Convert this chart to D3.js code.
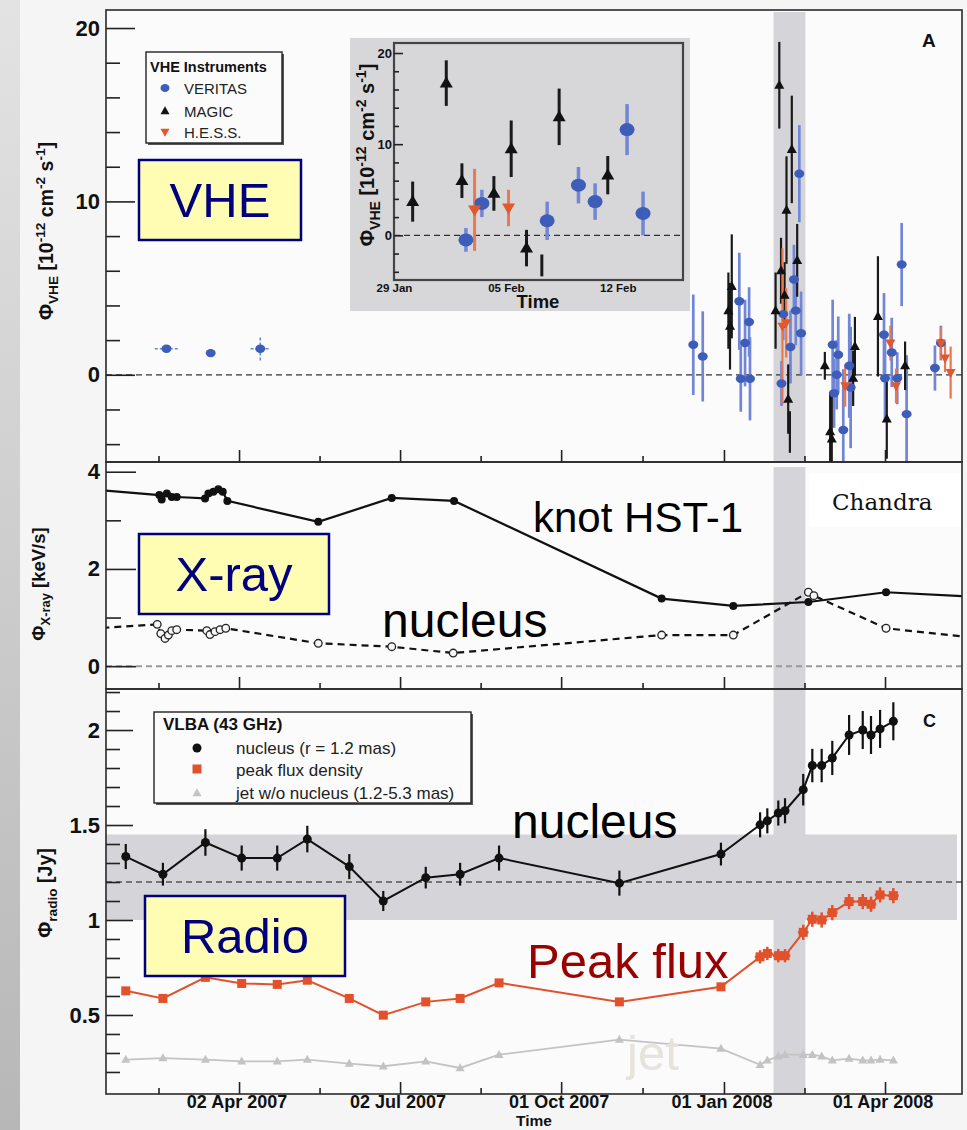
<!DOCTYPE html>
<html>
<head>
<meta charset="utf-8">
<script src="https://cdn.jsdelivr.net/npm/d3@7"></script>
<style>
  html, body { margin: 0; padding: 0; background: #f4f4f4; }
  svg { display: block; }
</style>
</head>
<body>
<svg id="chart" width="967" height="1130"></svg>
<script>
// ---------------- data ----------------
// VHE flux points: [time, flux (1e-12 cm^-2 s^-1), error]
const veritasEarly = [            // [time, flux, error, time error (days)]
  ["2007-02-20", 1.5, 0.15, 6.6],
  ["2007-03-17", 1.25, 0.1, 0],
  ["2007-04-14", 1.5, 0.67, 5.5]
];
const veritas = [
  ["2007-12-14T16:00", 1.73, 2.9],
  ["2007-12-20T00:00", 1.06, 2.6],
  ["2008-01-09T16:00", 4.24, 2.8],
  ["2008-01-10T12:00", -0.23, 1.9],
  ["2008-01-12T22:00", 1.83, 2.5],
  ["2008-01-15T05:00", 3.05, 2.0],
  ["2008-01-15T17:00", -0.23, 2.4],
  ["2008-02-02T12:00", -0.5, 1.3],
  ["2008-02-03T12:00", 3.5, 1.5],
  ["2008-02-07T14:00", 1.6, 2.1],
  ["2008-02-09T13:00", 5.5, 2.0],
  ["2008-02-10T14:00", 3.7, 2.0],
  ["2008-02-12T14:00", 11.6, 2.8],
  ["2008-02-13T14:00", 2.4, 2.4],
  ["2008-03-02T10:00", 1.73, 2.6],
  ["2008-03-03T05:00", -1.06, 2.0],
  ["2008-03-04T17:00", 0.0, 2.0],
  ["2008-03-05T14:00", 1.16, 2.2],
  ["2008-03-08T10:00", -3.18, 3.5],
  ["2008-03-11T19:00", 0.52, 3.0],
  ["2008-03-12T14:00", -0.73, 3.5],
  ["2008-03-31T10:00", 2.31, 2.4],
  ["2008-04-01T00:00", -0.2, 2.5],
  ["2008-04-04T19:00", 1.29, 2.0],
  ["2008-04-07T22:00", -0.2, 1.5],
  ["2008-04-10T10:00", 6.36, 2.4],
  ["2008-04-13T05:00", -2.27, 3.4],
  ["2008-04-29T05:00", 0.39, 1.3],
  ["2008-05-02T14:00", 1.83, 1.0]
];
const magic = [
  ["2008-01-03T12:00", 3.7, 2.2],
  ["2008-01-04T10:00", 2.8, 2.5],
  ["2008-01-05T10:00", 5.1, 3.0],
  ["2008-01-30T04:00", 3.7, 2.2],
  ["2008-02-01T06:30", 16.7, 2.5],
  ["2008-02-02T06:00", 6.0, 1.9],
  ["2008-02-04T06:00", 4.6, 1.9],
  ["2008-02-05T08:00", 9.5, 3.1],
  ["2008-02-06T07:00", -1.4, 2.0],
  ["2008-02-08T08:00", 13.0, 3.1],
  ["2008-02-11T09:00", 6.6, 2.1],
  ["2008-02-27T00:00", 0.52, 0.8],
  ["2008-03-01T00:00", -3.28, 2.3],
  ["2008-03-01T22:00", -3.7, 2.6],
  ["2008-03-14T00:00", -0.2, 1.6],
  ["2008-03-15T00:00", 1.64, 1.7],
  ["2008-03-28T00:00", 3.37, 3.47],
  ["2008-04-02T00:00", -2.54, 2.3],
  ["2008-04-12T08:00", 0.52, 1.4]
];
const magicBarOnly = [["2008-02-07T06:00", -3.3, 1.2]];
const hess = [
  ["2008-02-03T01:00", 2.8, 4.5],
  ["2008-02-05T04:00", 3.0, 2.0],
  ["2008-03-09T12:00", -0.64, 1.2],
  ["2008-04-04T00:00", 1.83, 1.0],
  ["2008-04-07T05:00", -0.64, 1.0],
  ["2008-05-02T14:00", 1.83, 0.9],
  ["2008-05-04T22:00", 0.96, 0.8],
  ["2008-05-08T02:00", 0.13, 1.5]
];

// X-ray (Chandra) count rates: [time, keV/s]
const xrayKnot = [
  ["2007-01-10", 3.63],
  ["2007-02-16", 3.52], ["2007-02-17T07:00", 3.43], ["2007-02-20T05:00", 3.55],
  ["2007-02-23", 3.48], ["2007-02-25T19:00", 3.48],
  ["2007-03-13T19:00", 3.45], ["2007-03-15T17:00", 3.55], ["2007-03-18T12:00", 3.59],
  ["2007-03-21T07:00", 3.64], ["2007-03-23T19:00", 3.59], ["2007-03-26T10:00", 3.40],
  ["2007-05-16T19:00", 2.97], ["2007-06-27T07:00", 3.46], ["2007-08-01T12:00", 3.40],
  ["2007-11-26T19:00", 1.39], ["2008-01-06T07:00", 1.24], ["2008-02-17T17:00", 1.32],
  ["2008-04-01T14:00", 1.52], ["2008-05-20", 1.43]
];
const xrayNucleus = [
  ["2007-01-08", 0.77],
  ["2007-02-14T19:00", 0.86], ["2007-02-16T19:00", 0.67], ["2007-02-19T05:00", 0.57],
  ["2007-02-21T02:00", 0.64], ["2007-02-23", 0.73], ["2007-02-25T19:00", 0.75],
  ["2007-03-14T19:00", 0.73], ["2007-03-16T14:00", 0.65], ["2007-03-19T10:00", 0.71],
  ["2007-03-22T07:00", 0.75], ["2007-03-25T12:00", 0.78],
  ["2007-05-16T19:00", 0.47], ["2007-06-27T07:00", 0.40], ["2007-08-01", 0.27],
  ["2007-11-26T19:00", 0.64], ["2008-01-06T07:00", 0.64], ["2008-02-17T17:00", 1.52],
  ["2008-02-20T19:00", 1.45], ["2008-04-01T14:00", 0.78], ["2008-05-25", 0.57]
];

// VLBA 43 GHz epochs and fluxes (Jy)
const radioDates = [
  "2007-01-28", "2007-02-18", "2007-03-14", "2007-04-03T12:00", "2007-04-23T14:00",
  "2007-05-10T14:00", "2007-06-03T07:00", "2007-06-22T12:00", "2007-07-16T12:00",
  "2007-08-04T22:00", "2007-08-26T22:00", "2007-11-02T22:00", "2007-12-30T07:00",
  "2008-01-21T10:00", "2008-01-25T12:00", "2008-01-31T17:00", "2008-02-04T12:00",
  "2008-02-14T19:00", "2008-02-19T22:00", "2008-02-25T05:00", "2008-03-02T05:00",
  "2008-03-11T17:00", "2008-03-19T10:00", "2008-03-24T02:00", "2008-03-29T05:00",
  "2008-04-05T17:00"
];
const radioNucleus = [1.334, 1.241, 1.408, 1.326, 1.326, 1.426, 1.281, 1.100, 1.223, 1.241,
  1.326, 1.194, 1.347, 1.501, 1.522, 1.563, 1.575, 1.686, 1.813, 1.813, 1.853, 1.974, 2.0,
  1.974, 2.006, 2.046];
const radioNucleusErr = [0.066, 0.06, 0.07, 0.066, 0.066, 0.07, 0.066, 0.053, 0.057, 0.06,
  0.066, 0.066, 0.06, 0.066, 0.066, 0.066, 0.066, 0.083, 0.088, 0.088, 0.09, 0.105, 0.1,
  0.1, 0.1, 0.1];
const radioPeak = [0.627, 0.587, 0.698, 0.666, 0.661, 0.683, 0.587, 0.499, 0.569, 0.587,
  0.669, 0.569, 0.648, 0.806, 0.824, 0.812, 0.812, 0.935, 1.004, 1.0, 1.039, 1.097, 1.097,
  1.083, 1.132, 1.128];
const radioPeakErr = [0.02, 0.02, 0.02, 0.02, 0.02, 0.02, 0.02, 0.02, 0.02, 0.02, 0.02, 0.02,
  0.02, 0.035, 0.035, 0.035, 0.035, 0.04, 0.04, 0.04, 0.04, 0.04, 0.04, 0.04, 0.04, 0.04];
const radioPeakTimeErr = [0, 0, 0, 0, 0, 0, 0, 0, 0, 0, 0, 0, 0,
  3, 3, 3, 3, 3, 3, 3, 3, 3, 3, 3, 3, 3];           // days
const radioJet = [0.265, 0.273, 0.265, 0.256, 0.256, 0.265, 0.244, 0.230, 0.256, 0.221,
  0.291, 0.370, 0.323, 0.238, 0.261, 0.282, 0.291, 0.291, 0.291, 0.282, 0.261, 0.270, 0.261,
  0.261, 0.265, 0.261];
const radioBand = [1.0, 1.45];     // long-term nucleus flux range
const radioMean = 1.2;

const flareWindow = ["2008-01-29", "2008-02-16"];
const timeTicks = ["2007-04-02", "2007-07-02", "2007-10-01", "2008-01-01", "2008-04-01"];
const insetTicks = ["2008-01-29", "2008-02-05", "2008-02-12"];

// ---------------- setup ----------------
const SANS = "'Liberation Sans', Arial, Helvetica, sans-serif";
const T = s => new Date(s.length === 10 ? s + "T00:00:00Z" : s + ":00Z");
const DAY = 864e5;

const svg = d3.select("#chart").attr("font-family", SANS);
const W = 967, H = 1130;
const L = 106, R = 962;
const pA = [10, 462], pB = [462, 689], pC = [689, 1094];

const x = d3.scaleUtc().domain([T("2007-01-16T20:00"), T("2008-05-14T12:00")]).range([L, R]);
const yA = d3.scaleLinear().domain([-5.03, 21.04]).range([pA[1], pA[0]]);
const yB = d3.scaleLinear().domain([-0.47, 4.2]).range([pB[1], pB[0]]);
const yC = d3.scaleLinear().domain([0.084, 2.216]).range([pC[1], pC[0]]);

const inset = { x0: 394, x1: 683, y0: 43, y1: 280 };
const xi = d3.scaleUtc().domain([T("2008-01-29"), T("2008-02-16T02:00")]).range([inset.x0, inset.x1]);
const yi = d3.scaleLinear().domain([-4.9, 21.1]).range([inset.y1, inset.y0]);

const C = {
  band: "#d5d5d9",
  vBlue: "#3d5db8", vBar: "#7186d6",
  mBlack: "#111", mBar: "#1a1a1a",
  hRed: "#e2582e", hBar: "#e9784f",
  peak: "#e1522c", jet: "#c3c3c3",
  navy: "#00007f", boxFill: "#fefdb3"
};

const defs = svg.append("defs");
const grad = defs.append("linearGradient").attr("id", "edge")
  .attr("x1", 0).attr("y1", 0).attr("x2", 0).attr("y2", 1);
grad.append("stop").attr("offset", "0%").attr("stop-color", "#e3e3e3");
grad.append("stop").attr("offset", "100%").attr("stop-color", "#b7b7b7");

function clip(id, x0, y0, w, h) {
  defs.append("clipPath").attr("id", id).append("rect")
    .attr("x", x0).attr("y", y0).attr("width", w).attr("height", h);
  return `url(#${id})`;
}
const clipA = clip("clipA", L, pA[0], R - L, pA[1] - pA[0]);
const clipB = clip("clipB", L, pB[0], R - L, pB[1] - pB[0]);
const clipC = clip("clipC", L, pC[0], R - L, pC[1] - pC[0]);
const clipI = clip("clipI", inset.x0, inset.y0, inset.x1 - inset.x0, inset.y1 - inset.y0);

// page background
svg.append("rect").attr("width", W).attr("height", H).attr("fill", "#f5f5f5");
svg.append("rect").attr("width", 20).attr("height", H).attr("fill", "url(#edge)");
svg.append("rect").attr("x", L).attr("y", pA[0]).attr("width", R - L)
  .attr("height", pC[1] - pA[0]).attr("fill", "#fbfbfb");

// ---------------- helpers ----------------
const triPath = (w, h, down) => down
  ? `M${-w / 2},${-h * 0.4}L${w / 2},${-h * 0.4}L0,${h * 0.6}Z`
  : `M0,${-h * 0.6}L${w / 2},${h * 0.4}L${-w / 2},${h * 0.4}Z`;

function vBars(g, data, xs, ys, color, width, val, err) {
  g.append("g").selectAll("line").data(data).join("line")
    .attr("x1", d => xs(T(d[0]))).attr("x2", d => xs(T(d[0])))
    .attr("y1", d => ys(val(d) - err(d))).attr("y2", d => ys(val(d) + err(d)))
    .attr("stroke", color).attr("stroke-width", width);
}

function richText(parent, x0, y0, fs, parts, rotate, anchor) {
  const t = parent.append("text")
    .attr("transform", `translate(${x0},${y0})` + (rotate ? " rotate(-90)" : ""))
    .attr("text-anchor", anchor || "middle")
    .attr("font-size", fs).attr("font-weight", "bold").attr("fill", "#111");
  let shift = 0;
  parts.forEach(p => {
    const target = p.sub ? 0.28 * fs : p.sup ? -0.42 * fs : 0;
    t.append("tspan").attr("dy", target - shift)
      .attr("font-size", (p.sub || p.sup) ? 0.7 * fs : fs).text(p.t);
    shift = target;
  });
  return t;
}

function yAxis(g, xpos, scale, majors, minors, majLen, minLen, fs, pad) {
  const a = g.append("g").attr("transform", `translate(${xpos},0)`)
    .call(d3.axisLeft(scale).tickValues(majors).tickSizeInner(-majLen).tickSizeOuter(0)
      .tickPadding(pad).tickFormat(d3.format("~g")));
  a.attr("font-family", SANS).attr("font-size", fs).attr("font-weight", "bold");
  a.select(".domain").remove();
  a.selectAll("line").attr("stroke", "#222").attr("stroke-width", 1.6);
  a.selectAll("text").attr("fill", "#111");
  const b = g.append("g").attr("transform", `translate(${xpos},0)`)
    .call(d3.axisLeft(scale).tickValues(minors).tickSizeInner(-minLen).tickSizeOuter(0).tickFormat(""));
  b.select(".domain").remove();
  b.selectAll("line").attr("stroke", "#222").attr("stroke-width", 1.6);
}

const majorDates = timeTicks.map(T);
const minorDates = [new Date(+majorDates[0] - (majorDates[1] - majorDates[0]) / 2)]
  .concat(d3.pairs(majorDates).map(([a, b]) => new Date((+a + +b) / 2)));

function xAxis(g, ybot, labels) {
  const a = g.append("g").attr("transform", `translate(0,${ybot})`)
    .call(d3.axisBottom(x).tickValues(majorDates).tickSizeInner(-12).tickSizeOuter(0)
      .tickPadding(1).tickFormat(labels ? d3.utcFormat("%d %b %Y") : ""));
  a.attr("font-family", SANS).attr("font-size", 18).attr("font-weight", "bold");
  a.select(".domain").remove();
  a.selectAll("line").attr("stroke", "#222").attr("stroke-width", 1.6);
  a.selectAll("text").attr("fill", "#111").attr("dx", -2.5);
  const b = g.append("g").attr("transform", `translate(0,${ybot})`)
    .call(d3.axisBottom(x).tickValues(minorDates).tickSizeInner(-6).tickSizeOuter(0).tickFormat(""));
  b.select(".domain").remove();
  b.selectAll("line").attr("stroke", "#222").attr("stroke-width", 1.6);
}

function flareBand(g, y0, y1) {
  g.append("rect").attr("x", x(T(flareWindow[0]))).attr("y", y0)
    .attr("width", x(T(flareWindow[1])) - x(T(flareWindow[0]))).attr("height", y1 - y0)
    .attr("fill", C.band);
}

function frame(g, y0, y1) {
  g.append("rect").attr("x", L).attr("y", y0).attr("width", R - L).attr("height", y1 - y0)
    .attr("fill", "none").attr("stroke", "#2a2a2a").attr("stroke-width", 1.6);
}

function labelBox(g, bx, by, bw, bh, text) {
  g.append("rect").attr("x", bx).attr("y", by).attr("width", bw).attr("height", bh)
    .attr("fill", C.boxFill).attr("stroke", C.navy).attr("stroke-width", 2.5);
  g.append("text").attr("x", bx + bw / 2).attr("y", by + bh / 2 + 17)
    .attr("text-anchor", "middle").attr("font-size", 49).attr("fill", C.navy).text(text);
}

const yLabelVHE = [{ t: "Φ" }, { t: "VHE", sub: 1 }, { t: " [10" }, { t: "-12", sup: 1 },
  { t: " cm" }, { t: "-2", sup: 1 }, { t: " s" }, { t: "-1", sup: 1 }, { t: "]" }];

// VHE light curve, drawn through any pair of scales
function drawVHE(g, xs, ys, big) {
  const rx = big ? 7.5 : 5, ry = big ? 6.5 : 4.2;
  const tw = big ? 13 : 10, th = big ? 11 : 9;
  const bw = big ? 3 : 2.2;
  const val = d => d[1], err = d => d[2];

  // early VERITAS points with time and flux errors
  const e = g.append("g");
  e.selectAll("line.v").data(veritasEarly).join("line")
    .attr("x1", d => xs(T(d[0]))).attr("x2", d => xs(T(d[0])))
    .attr("y1", d => ys(d[1] - d[2])).attr("y2", d => ys(d[1] + d[2]))
    .attr("stroke", C.vBar).attr("stroke-width", 1.6).attr("stroke-dasharray", "3,2");
  e.selectAll("line.h").data(veritasEarly).join("line")
    .attr("x1", d => xs(new Date(+T(d[0]) - d[3] * DAY)))
    .attr("x2", d => xs(new Date(+T(d[0]) + d[3] * DAY)))
    .attr("y1", d => ys(d[1])).attr("y2", d => ys(d[1]))
    .attr("stroke", C.vBar).attr("stroke-width", 1.6).attr("stroke-dasharray", "3,2");

  vBars(g, veritas, xs, ys, C.vBar, bw + 0.5, val, err);
  vBars(g, magic.concat(magicBarOnly), xs, ys, C.mBar, bw, val, err);
  vBars(g, hess, xs, ys, C.hBar, bw, val, err);

  g.append("g").selectAll("ellipse").data(veritasEarly.concat(veritas)).join("ellipse")
    .attr("cx", d => xs(T(d[0]))).attr("cy", d => ys(d[1]))
    .attr("rx", rx).attr("ry", ry).attr("fill", C.vBlue);
  g.append("g").selectAll("path").data(magic).join("path")
    .attr("transform", d => `translate(${xs(T(d[0]))},${ys(d[1])})`)
    .attr("d", triPath(tw, th, false)).attr("fill", C.mBlack);
  g.append("g").selectAll("path").data(hess).join("path")
    .attr("transform", d => `translate(${xs(T(d[0]))},${ys(d[1])})`)
    .attr("d", triPath(tw, th, true)).attr("fill", C.hRed);
}

// ---------------- panel A: VHE ----------------
const gA = svg.append("g");
flareBand(gA, pA[0] + 2, pA[1]);
gA.append("line").attr("x1", L).attr("x2", R).attr("y1", yA(0)).attr("y2", yA(0))
  .attr("stroke", "#333").attr("stroke-width", 1.3).attr("stroke-dasharray", "6,4");
drawVHE(gA.append("g").attr("clip-path", clipA), x, yA, false);
frame(gA, pA[0], pA[1]);
yAxis(gA, L, yA, [0, 10, 20], d3.range(-4, 21, 2).filter(v => v % 10 !== 0), 29, 14, 22, 6);
xAxis(gA, pA[1], false);
richText(gA, 53, 231, 19.5, yLabelVHE, true);
gA.append("text").attr("x", 922).attr("y", 47).attr("font-size", 19).attr("font-weight", "bold")
  .attr("fill", "#111").text("A");

// legend
const lgA = gA.append("g");
lgA.append("rect").attr("x", 148).attr("y", 54).attr("width", 136).attr("height", 91).attr("fill", "#555");
lgA.append("rect").attr("x", 146).attr("y", 52).attr("width", 136).attr("height", 91)
  .attr("fill", "#fbfbfb").attr("stroke", "#222").attr("stroke-width", 1.4);
lgA.append("text").attr("x", 150).attr("y", 72).attr("font-size", 14.5).attr("font-weight", "bold")
  .attr("fill", "#111").text("VHE Instruments");
const lgItems = [
  { y: 88, label: "VERITAS", kind: "v" },
  { y: 111, label: "MAGIC", kind: "m" },
  { y: 132, label: "H.E.S.S.", kind: "h" }
];
lgItems.forEach(it => {
  if (it.kind === "v") lgA.append("ellipse").attr("cx", 165).attr("cy", it.y).attr("rx", 4.5).attr("ry", 4).attr("fill", C.vBlue);
  else lgA.append("path").attr("transform", `translate(165,${it.y})`)
    .attr("d", triPath(9, 8, it.kind === "h")).attr("fill", it.kind === "h" ? C.hRed : C.mBlack);
  lgA.append("text").attr("x", 184).attr("y", it.y + 6).attr("font-size", 15).attr("fill", "#222").text(it.label);
});
labelBox(gA, 139, 160, 162, 80, "VHE");

// inset: zoom on the flare window
const gI = svg.append("g");
gI.append("rect").attr("x", 350).attr("y", 38).attr("width", 340).attr("height", 273).attr("fill", "#d7d7da");
gI.append("line").attr("x1", inset.x0).attr("x2", inset.x1).attr("y1", yi(0)).attr("y2", yi(0))
  .attr("stroke", "#333").attr("stroke-width", 1.4).attr("stroke-dasharray", "6,4");
drawVHE(gI.append("g").attr("clip-path", clipI), xi, yi, true);
gI.append("rect").attr("x", inset.x0).attr("y", inset.y0).attr("width", inset.x1 - inset.x0)
  .attr("height", inset.y1 - inset.y0).attr("fill", "none").attr("stroke", "#444").attr("stroke-width", 2.2);
yAxis(gI, inset.x0, yi, [0, 10, 20], d3.range(-4, 21, 2).filter(v => v % 10 !== 0), 9, 5, 13, 2);
const ixa = gI.append("g").attr("transform", `translate(0,${inset.y1})`)
  .call(d3.axisBottom(xi).tickValues(insetTicks.map(T)).tickSize(0).tickPadding(4)
    .tickFormat(d3.utcFormat("%d %b")));
ixa.attr("font-family", SANS).attr("font-size", 11.5).attr("font-weight", "bold");
ixa.select(".domain").remove();
ixa.selectAll("text").attr("fill", "#111");
gI.append("text").attr("x", 538).attr("y", 308).attr("text-anchor", "middle")
  .attr("font-size", 18.5).attr("font-weight", "bold").attr("fill", "#111").text("Time");
richText(gI, 374, 155, 20, yLabelVHE, true);

// ---------------- panel B: X-ray ----------------
const gB = svg.append("g");
flareBand(gB, pB[0] + 5, pB[1]);
gB.append("line").attr("x1", L).attr("x2", R).attr("y1", yB(0)).attr("y2", yB(0))
  .attr("stroke", "#999").attr("stroke-width", 2).attr("stroke-dasharray", "6,4");
const dB = gB.append("g").attr("clip-path", clipB);
const lineB = d3.line().x(d => x(T(d[0]))).y(d => yB(d[1]));
dB.append("path").datum(xrayKnot).attr("d", lineB).attr("fill", "none")
  .attr("stroke", "#111").attr("stroke-width", 2.2);
dB.append("path").datum(xrayNucleus).attr("d", lineB).attr("fill", "none")
  .attr("stroke", "#111").attr("stroke-width", 2.2).attr("stroke-dasharray", "7,5");
dB.append("g").selectAll("circle").data(xrayKnot).join("circle")
  .attr("cx", d => x(T(d[0]))).attr("cy", d => yB(d[1])).attr("r", 4).attr("fill", "#111");
dB.append("g").selectAll("circle").data(xrayNucleus).join("circle")
  .attr("cx", d => x(T(d[0]))).attr("cy", d => yB(d[1])).attr("r", 3.8)
  .attr("fill", "#f6f6f6").attr("stroke", "#222").attr("stroke-width", 1.3);
// Chandra tag
gB.append("rect").attr("x", 809).attr("y", 473).attr("width", R - 809).attr("height", 54).attr("fill", "#fff");
gB.append("text").attr("x", 832).attr("y", 510).attr("font-family", "'DejaVu Serif', serif")
  .attr("font-size", 23).attr("fill", "#111").text("Chandra");
frame(gB, pB[0], pB[1]);
yAxis(gB, L, yB, [0, 2, 4], [1, 3], 30, 15, 22, 6);
xAxis(gB, pB[1], false);
richText(gB, 45, 584, 18.5, [{ t: "Φ" }, { t: "X-ray", sub: 1 }, { t: " [keV/s]" }], true);
labelBox(gB, 139, 534, 190, 80, "X-ray");
gB.append("text").attr("x", 533).attr("y", 532).attr("font-size", 42).attr("fill", "#000").text("knot HST-1");
gB.append("text").attr("x", 382).attr("y", 637).attr("font-size", 48).attr("fill", "#000").text("nucleus");

// ---------------- panel C: radio ----------------
const gC = svg.append("g");
flareBand(gC, pC[0] + 1, pC[1]);
gC.append("rect").attr("x", L).attr("y", yC(radioBand[1])).attr("width", R - 5 - L)
  .attr("height", yC(radioBand[0]) - yC(radioBand[1])).attr("fill", C.band);
gC.append("line").attr("x1", L).attr("x2", R).attr("y1", yC(radioMean)).attr("y2", yC(radioMean))
  .attr("stroke", "#555").attr("stroke-width", 1.5).attr("stroke-dasharray", "6,4");

const radio = radioDates.map((d, i) => ({
  t: T(d), nuc: radioNucleus[i], nucErr: radioNucleusErr[i],
  peak: radioPeak[i], peakErr: radioPeakErr[i], peakDt: radioPeakTimeErr[i], jet: radioJet[i]
}));
const dC = gC.append("g").attr("clip-path", clipC);
const lineC = key => d3.line().x(d => x(d.t)).y(d => yC(d[key]));

// jet
dC.append("path").datum(radio).attr("d", lineC("jet")).attr("fill", "none")
  .attr("stroke", C.jet).attr("stroke-width", 1.8);
dC.append("g").selectAll("path").data(radio).join("path")
  .attr("transform", d => `translate(${x(d.t)},${yC(d.jet)})`)
  .attr("d", triPath(9, 8, false)).attr("fill", C.jet);
// peak flux density
dC.append("path").datum(radio).attr("d", lineC("peak")).attr("fill", "none")
  .attr("stroke", C.peak).attr("stroke-width", 2);
dC.append("g").selectAll("line").data(radio).join("line")
  .attr("x1", d => x(d.t)).attr("x2", d => x(d.t))
  .attr("y1", d => yC(d.peak - d.peakErr)).attr("y2", d => yC(d.peak + d.peakErr))
  .attr("stroke", C.peak).attr("stroke-width", 2.5);
dC.append("g").selectAll("line").data(radio).join("line")
  .attr("x1", d => x(new Date(+d.t - d.peakDt * DAY))).attr("x2", d => x(new Date(+d.t + d.peakDt * DAY)))
  .attr("y1", d => yC(d.peak)).attr("y2", d => yC(d.peak))
  .attr("stroke", C.peak).attr("stroke-width", 2.5);
dC.append("g").selectAll("rect").data(radio).join("rect")
  .attr("x", d => x(d.t) - 4.5).attr("y", d => yC(d.peak) - 4.5).attr("width", 9).attr("height", 9)
  .attr("fill", C.peak);
// nucleus
dC.append("path").datum(radio).attr("d", lineC("nuc")).attr("fill", "none")
  .attr("stroke", "#111").attr("stroke-width", 2);
dC.append("g").selectAll("line").data(radio).join("line")
  .attr("x1", d => x(d.t)).attr("x2", d => x(d.t))
  .attr("y1", d => yC(d.nuc - d.nucErr)).attr("y2", d => yC(d.nuc + d.nucErr))
  .attr("stroke", "#111").attr("stroke-width", 2.2);
dC.append("g").selectAll("circle").data(radio).join("circle")
  .attr("cx", d => x(d.t)).attr("cy", d => yC(d.nuc)).attr("r", 4.5).attr("fill", "#111");

frame(gC, pC[0], pC[1]);
yAxis(gC, L, yC, [0.5, 1, 1.5, 2],
  d3.range(2, 23).map(v => v / 10).filter(v => Math.round(v * 10) % 5 !== 0), 27, 14, 22, 6);
xAxis(gC, pC[1], true);
gC.append("text").attr("x", 534).attr("y", 1126).attr("text-anchor", "middle")
  .attr("font-size", 15.5).attr("font-weight", "bold").attr("fill", "#111").text("Time");
richText(gC, 52, 893, 19.5, [{ t: "Φ" }, { t: "radio", sub: 1 }, { t: " [Jy]" }], true);
gC.append("text").attr("x", 923).attr("y", 727).attr("font-size", 18).attr("font-weight", "bold")
  .attr("fill", "#111").text("C");

// legend
const lgC = gC.append("g");
lgC.append("rect").attr("x", 156).attr("y", 714).attr("width", 317).attr("height", 91).attr("fill", "#555");
lgC.append("rect").attr("x", 154).attr("y", 712).attr("width", 317).attr("height", 91)
  .attr("fill", "#fbfbfb").attr("stroke", "#222").attr("stroke-width", 1.4);
lgC.append("text").attr("x", 163).attr("y", 730).attr("font-size", 17).attr("font-weight", "bold")
  .attr("fill", "#111").text("VLBA (43 GHz)");
lgC.append("circle").attr("cx", 197).attr("cy", 748).attr("r", 4.5).attr("fill", "#111");
lgC.append("rect").attr("x", 192.5).attr("y", 764.5).attr("width", 9).attr("height", 9).attr("fill", C.peak);
lgC.append("path").attr("transform", "translate(197,793)").attr("d", triPath(9, 8, false)).attr("fill", C.jet);
[["nucleus (r = 1.2 mas)", 754], ["peak flux density", 776], ["jet w/o nucleus (1.2-5.3 mas)", 799]]
  .forEach(([t, yy]) => lgC.append("text").attr("x", 236).attr("y", yy).attr("font-size", 17)
    .attr("fill", "#222").text(t));

labelBox(gC, 145, 896, 200, 80, "Radio");
gC.append("text").attr("x", 512).attr("y", 838).attr("font-size", 48).attr("fill", "#000").text("nucleus");
gC.append("text").attr("x", 527).attr("y", 978).attr("font-size", 49).attr("fill", "#990000").text("Peak flux");
gC.append("text").attr("x", 627).attr("y", 1070).attr("font-size", 49).attr("fill", "#e6e2dc").text("jet");
</script>
</body>
</html>
